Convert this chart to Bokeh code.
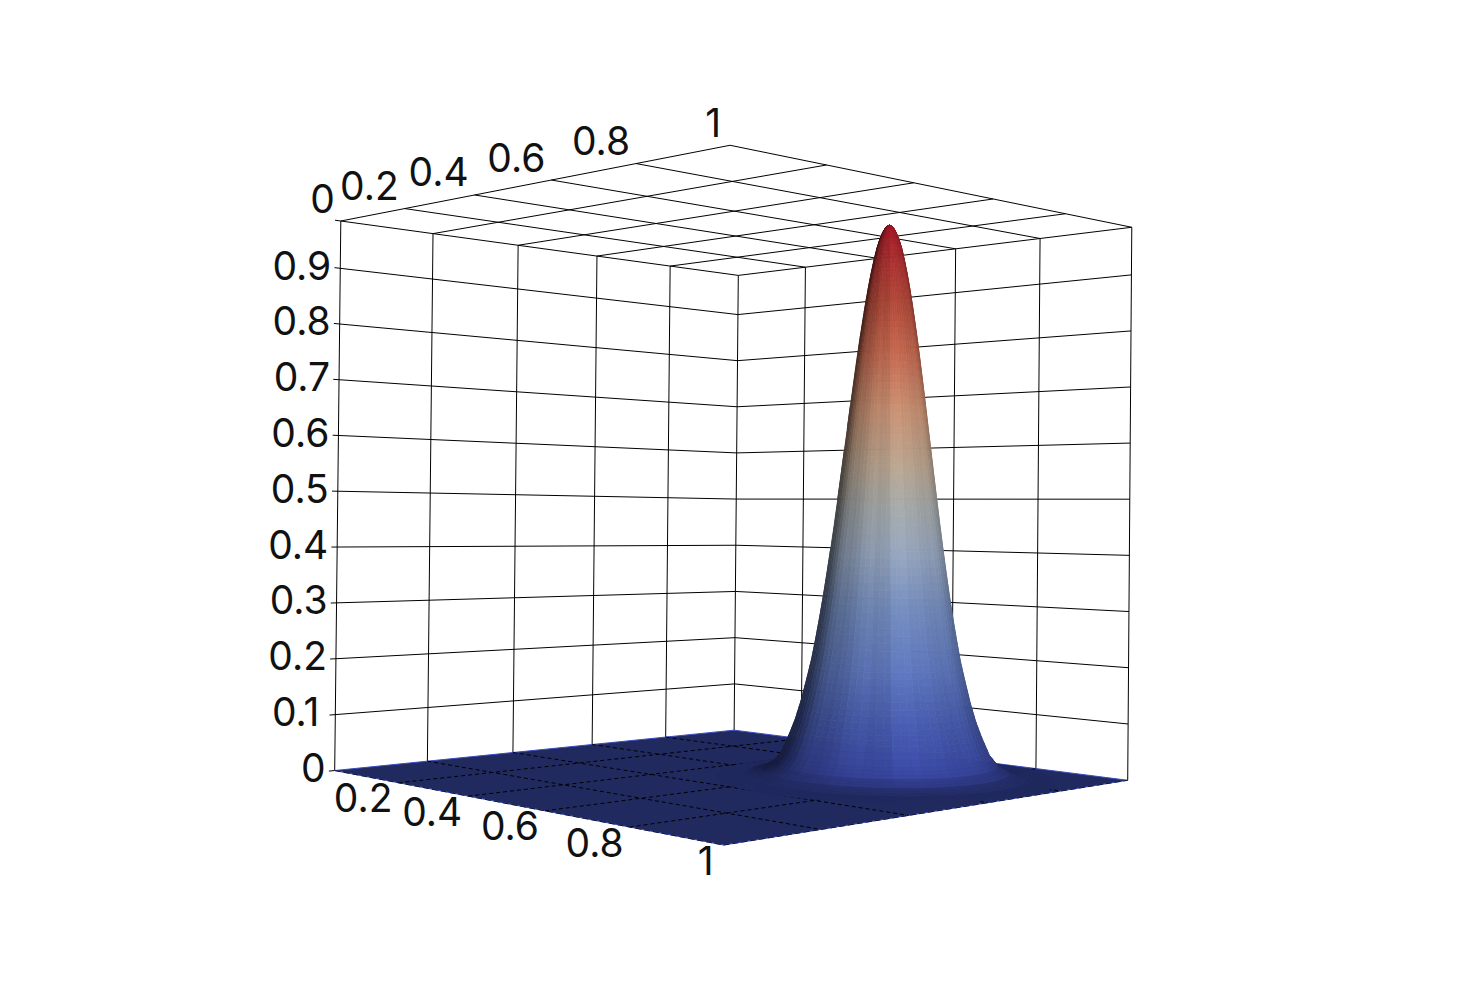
import numpy as np
from bokeh.core.properties import value
from bokeh.embed import file_html
from bokeh.models import ColumnDataSource
from bokeh.plotting import figure
from bokeh.resources import INLINE

# ---- data ----
axis_ticks = [0.2, 0.4, 0.6, 0.8]
axis_labels = ["0", "0.2", "0.4", "0.6", "0.8", "1"]
axis_label_values = [0.0, 0.2, 0.4, 0.6, 0.8, 1.0]
height_ticks = [0.1, 0.2, 0.3, 0.4, 0.5, 0.6, 0.7, 0.8, 0.9]
height_labels = ["0", "0.1", "0.2", "0.3", "0.4", "0.5", "0.6", "0.7", "0.8", "0.9"]
height_label_values = [0.0, 0.1, 0.2, 0.3, 0.4, 0.5, 0.6, 0.7, 0.8, 0.9]
height_max = 0.985

peak_u = 0.695
peak_v = 0.695
peak_radius = [0, .004, .008, .012, .017, .022, .027, .032, .037, .042, .047, .052,
               .057, .062, .067, .072, .077, .082, .088, .094, .100, .106, .112, .118,
               .125, .132, .140, .150, .160, .170, .185, .200, .220, .250, .300]
peak_height = [.985, .984, .979, .972, .960, .944, .923, .899, .872, .842, .809, .775,
               .738, .700, .661, .621, .582, .542, .495, .449, .405, .363, .323, .286,
               .246, .209, .175, .135, .102, .076, .042, .024, .012, .003, .000]

color_heights = [0.0, 0.02, 0.10, 0.20, 0.30, 0.40, 0.48, 0.55, 0.65, 0.75, 0.85, 0.985]
color_r = [66, 58, 70, 95, 115, 150, 165, 185, 200, 195, 175, 165]
color_g = [84, 72, 90, 120, 140, 165, 170, 165, 145, 105, 70, 25]
color_b = [190, 165, 175, 190, 190, 190, 170, 145, 115, 80, 55, 40]
streak_tint = [1.00, 0.97, 1.02, 0.96, 1.03, 0.99, 0.95, 1.02, 1.00, 0.96, 1.03, 0.98,
               1.01, 0.97, 1.02, 1.00, 0.95, 1.03, 0.98, 1.01, 0.96, 1.02, 0.99, 0.97]
floor_color = "#212a5f"
floor_edge_color = "#3b4cc0"
text_color = "#111111"

# camera: where the eight corners of the box fall in the picture
corner_uvw = [(0, 0, 0), (1, 0, 0), (0, 1, 0), (1, 1, 0),
              (0, 0, height_max), (1, 0, height_max), (0, 1, height_max), (1, 1, height_max)]
corner_px = [(335, 770), (722, 845), (733, 730), (1128, 779),
             (340, 220), (730, 145), (738, 275), (1131, 227)]


def fit_camera():
    rows, rhs = [], []
    for (u, v, w), (x, y) in zip(corner_uvw, corner_px):
        rows.append([u, v, w, 1, 0, 0, 0, 0, -x * u, -x * v, -x * w])
        rhs.append(x)
        rows.append([0, 0, 0, 0, u, v, w, 1, -y * u, -y * v, -y * w])
        rhs.append(y)
    sol = np.linalg.lstsq(np.array(rows, float), np.array(rhs, float), rcond=None)[0]
    return np.append(sol, 1.0).reshape(3, 4)


CAM = fit_camera()


def project(u, v, w):
    u, v, w = np.asarray(u, float), np.asarray(v, float), np.asarray(w, float)
    h = np.stack([u, v, w, np.ones_like(u)])
    q = CAM @ h.reshape(4, -1)
    return (q[0] / q[2]).reshape(u.shape), (q[1] / q[2]).reshape(u.shape), q[2].reshape(u.shape)


def seg(a, b):
    x, y, _ = project([a[0], b[0]], [a[1], b[1]], [a[2], b[2]])
    return list(x), list(y)


def area(x, y):
    return 0.5 * np.sum(x * np.roll(y, -1) - np.roll(x, -1) * y)


p = figure(width=1450, height=983, x_range=(0, 1450), y_range=(983, 0),
           output_backend="svg", toolbar_location=None, min_border=0)
p.axis.visible = False
p.grid.visible = False
p.outline_line_color = None
p.background_fill_color = "white"
p.border_fill_color = "white"

# ---- box lines ----
T = height_max
E = 0.012
lines = []
for z in height_ticks:
    lines.append(seg((0, -E, z), (0, 1, z)))
    lines.append(seg((0, 1, z), (1, 1, z)))
for t in axis_ticks:
    lines.append(seg((0, t, 0), (0, t, T)))
    lines.append(seg((t, 1, 0), (t, 1, T)))
for c in [(0, 0), (0, 1), (1, 1)]:
    lines.append(seg((c[0], c[1], 0), (c[0], c[1], T)))
for t in [0.0] + axis_ticks + [1.0]:
    lines.append(seg((t, 0, T), (t, 1, T)))
    lines.append(seg((0, t, T), (1, t, T)))
lines.append(seg((0, -E, T), (0, 0, T)))
lines.append(seg((0, -E, 0), (0, 0, 0)))
p.multi_line([l[0] for l in lines], [l[1] for l in lines], line_color="black", line_width=1)

# ---- floor ----
fx, fy, _ = project([0, 1, 1, 0], [0, 0, 1, 1], [0, 0, 0, 0])
p.patch(list(fx), list(fy), fill_color=floor_color, line_color=floor_edge_color, line_width=1)
floor_lines = []
for t in axis_ticks:
    floor_lines.append(seg((t, 0, 0), (t, 1, 0)))
    floor_lines.append(seg((0, t, 0), (1, t, 0)))
p.multi_line([l[0] for l in floor_lines], [l[1] for l in floor_lines],
             line_color="black", line_width=1, line_dash="4 3")
edge_lines = [seg((0, 0, 0), (1, 0, 0)), seg((1, 0, 0), (1, 1, 0))]
p.multi_line([l[0] for l in edge_lines], [l[1] for l in edge_lines],
             line_color="#101530", line_width=1, line_dash="6 3")

# ---- peak, painted back to front ----
radius = np.array(peak_radius)
height = np.array(peak_height)
n_ang = 72
n_sub = 3
ang = np.linspace(0, 2 * np.pi, n_ang + 1)
view = np.array([1, -1]) / np.sqrt(2)
right = np.array([1, 1]) / np.sqrt(2)
rot = np.radians(16)
L_h = np.cos(rot) * view + np.sin(rot) * right
L_z = 0.0775
L_h = L_h * np.sqrt(1 - L_z ** 2)
xs, ys, cols, depth = [], [], [], []
for i in range(len(radius) - 1):
    for k in range(n_sub):
        f0, f1 = k / n_sub, (k + 1) / n_sub
        r0 = radius[i] + f0 * (radius[i + 1] - radius[i])
        r1 = radius[i] + f1 * (radius[i + 1] - radius[i])
        z0 = height[i] + f0 * (height[i + 1] - height[i])
        z1 = height[i] + f1 * (height[i + 1] - height[i])
        zm = 0.5 * (z0 + z1)
        fade = min(1.0, zm / 0.05)
        slope = (z0 - z1) / (r1 - r0) * 3.0 * fade
        base = [np.interp(zm, color_heights, color_r), np.interp(zm, color_heights, color_g),
                np.interp(zm, color_heights, color_b)]
        for j in range(n_ang):
            a0, a1 = ang[j], ang[j + 1]
            am = 0.5 * (a0 + a1)
            uu = peak_u + np.array([r0 * np.cos(a0), r1 * np.cos(a0), r1 * np.cos(a1), r0 * np.cos(a1)])
            vv = peak_v + np.array([r0 * np.sin(a0), r1 * np.sin(a0), r1 * np.sin(a1), r0 * np.sin(a1)])
            ww = np.array([z0, z1, z1, z0])
            x, y, d = project(uu, vv, ww)
            fx0, fy0, _ = project(uu, vv, np.zeros(4))
            if area(x, y) * area(fx0, fy0) <= 0:
                continue
            n = np.array([slope * np.cos(am), slope * np.sin(am), 1.0])
            n /= np.linalg.norm(n)
            s = 0.4 + 0.6 * max(0.0, n[0] * L_h[0] + n[1] * L_h[1] + n[2] * L_z) ** 0.7
            s *= 1 + (streak_tint[j * len(streak_tint) // n_ang] - 1) * fade
            rgb = [int(min(255, c * s)) for c in base]
            xs.append(list(x))
            ys.append(list(y))
            cols.append("#%02x%02x%02x" % tuple(rgb))
            depth.append(d.mean())

_, _, d_back = project([0.0], [1.0], [0.0])
_, _, d_front = project([1.0], [0.0], [0.0])
order = np.argsort(depth)
if d_back[0] >= d_front[0]:
    order = order[::-1]
src = ColumnDataSource(dict(xs=[xs[i] for i in order], ys=[ys[i] for i in order],
                            c=[cols[i] for i in order]))
p.patches("xs", "ys", source=src, fill_color="c", line_color="c", line_width=0.7)

# ---- labels ----
font = value("Inter")
size = "39px"


def labels(xv, yv, texts):
    p.text(list(xv), list(yv), text=texts, text_font=font, text_font_size=size,
           text_align="right", text_baseline="middle", text_color=text_color)


zn = len(height_label_values)
zx, zy, _ = project(np.zeros(zn), np.zeros(zn), height_label_values)
z_dx = np.array([-7.0 if t == "0.1" else 0.0 for t in height_labels])
labels(zx - 9 + z_dx, zy - 3, height_labels)
a = np.array(axis_label_values)
bx, by, _ = project(a, np.zeros_like(a), np.zeros_like(a))
b_dx = np.array([-10.0 if t == "1" else -6.0 for t in axis_labels])
labels((bx + b_dx)[1:], (by + 15)[1:], axis_labels[1:])
tx, ty, _ = project(a, np.zeros_like(a), np.full_like(a, height_max))
t_dx = np.array([-9.0 if t == "1" else -6.0 for t in axis_labels])
labels(tx + t_dx, ty - 23, axis_labels)

open("out.html", "w").write(file_html(p, INLINE))
